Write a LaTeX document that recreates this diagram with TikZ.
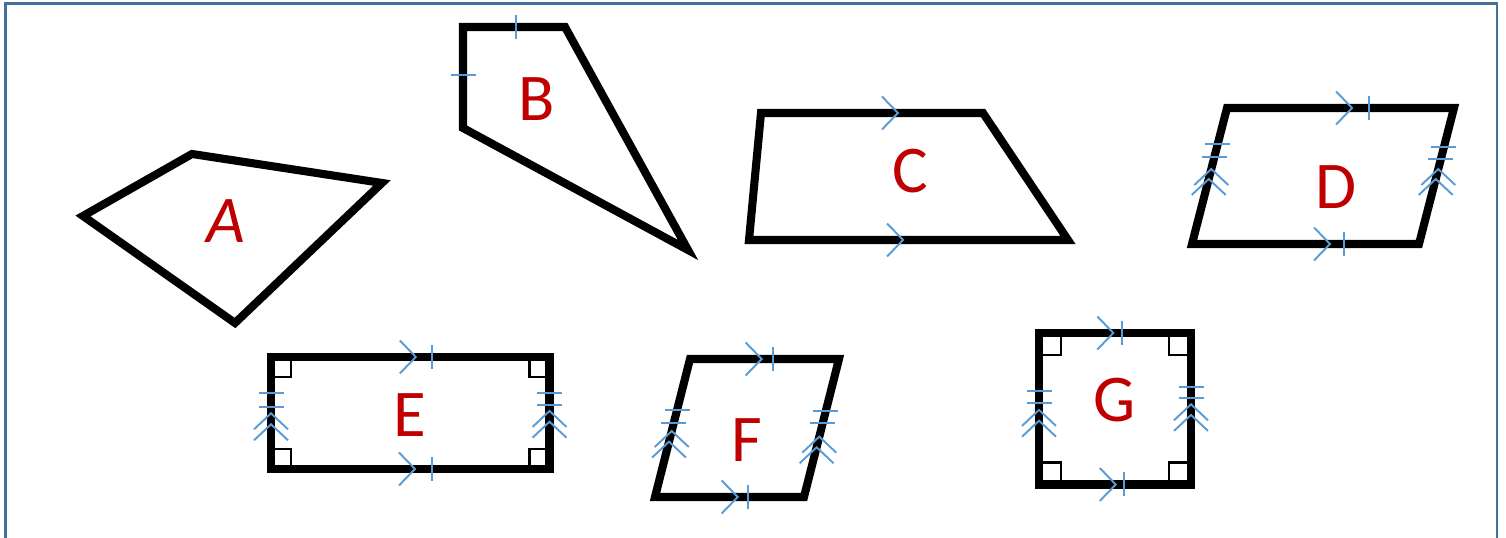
\documentclass[tikz,border=0pt]{standalone}
\usepackage{fontspec}
\setmainfont{Carlito}
\usepackage{tkz-euclide}
\usetikzlibrary{calc}
\definecolor{FrameClr}{RGB}{65,113,156}
\definecolor{MarkClr}{RGB}{91,155,213}
\definecolor{LetterClr}{RGB}{192,0,0}
\tikzset{markline/.style={color=MarkClr,line width=0.55pt},
  letter/.style={color=LetterClr,font=\fontsize{19}{19}\selectfont,inner sep=0pt}}
% tick across a horizontal / vertical side, chevron pointing right / up
\newcommand{\TickV}[1]{\draw[markline,shift={(#1)}] (0,.12) -- (0,-.12);}
\newcommand{\TickH}[1]{\draw[markline,shift={(#1)}] (-.125,0) -- (.125,0);}
\newcommand{\ChevR}[1]{\draw[markline,shift={(#1)}] (-.16,.165) -- (0,0) -- (-.16,-.165);}
\newcommand{\ChevU}[1]{\draw[markline,shift={(#1)}] (-.17,-.16) -- (0,0) -- (.17,-.16);}

\begin{document}
\begin{tikzpicture}
\useasboundingbox (0,0) rectangle (15.06,5.38);
\tkzSetUpLine[line width=2.3pt,color=black]

\draw[FrameClr,line width=0.7pt] (0.053,-0.1) -- (0.053,5.343) -- (14.97,5.343) -- (14.97,-0.1);

\tkzDefPoints{0.83/3.22/A1,1.92/3.84/A2,3.82/3.55/A3,2.35/2.15/A4}
\tkzDefPoints{4.63/5.11/B1,5.65/5.11/B2,6.88/2.88/B3,4.63/4.10/B4}
\tkzDefPoints{7.61/4.25/C1,9.83/4.25/C2,10.68/2.98/C3,7.49/2.98/C4}
\tkzDefPoints{12.27/4.30/D1,14.54/4.30/D2,14.19/2.94/D3,11.92/2.94/D4}
\tkzDefPoints{2.71/1.81/E1,5.495/1.81/E2,5.495/0.69/E3,2.71/0.69/E4}
\tkzDefPoints{6.90/1.79/F1,8.39/1.79/F2,8.04/0.41/F3,6.55/0.41/F4}
\tkzDefPoints{10.39/2.05/G1,11.91/2.05/G2,11.91/0.535/G3,10.39/0.535/G4}

\tkzDrawPolygon[line join=miter](A1,A2,A3,A4)
\tkzDrawPolygon[line join=miter](B1,B2,B3,B4)
\tkzDrawPolygon[line join=miter](C1,C2,C3,C4)
\tkzDrawPolygon[line join=miter](D1,D2,D3,D4)
\tkzDrawPolygon[line join=miter](E1,E2,E3,E4)
\tkzDrawPolygon[line join=miter](F1,F2,F3,F4)
\tkzDrawPolygon[line join=miter](G1,G2,G3,G4)

\tkzMarkRightAngle[size=.2,line width=0.6pt,color=black](E2,E1,E4)
\tkzMarkRightAngle[size=.2,line width=0.6pt,color=black](E3,E2,E1)
\tkzMarkRightAngle[size=.2,line width=0.6pt,color=black](E4,E3,E2)
\tkzMarkRightAngle[size=.2,line width=0.6pt,color=black](E1,E4,E3)
\tkzMarkRightAngle[size=.22,line width=0.6pt,color=black](G2,G1,G4)
\tkzMarkRightAngle[size=.22,line width=0.6pt,color=black](G3,G2,G1)
\tkzMarkRightAngle[size=.22,line width=0.6pt,color=black](G4,G3,G2)
\tkzMarkRightAngle[size=.22,line width=0.6pt,color=black](G1,G4,G3)

% B
\TickV{$(B1)!.52!(B2)$}
\TickH{$(B4)!.52!(B1)$}
% C
\ChevR{$(C1)!.617!(C2)$}
\ChevR{$(C4)!.483!(C3)$}
% D
\ChevR{$(D1)!.551!(D2)$} \TickV{$(D1)!.626!(D2)$}
\ChevR{$(D4)!.608!(D3)$} \TickV{$(D4)!.670!(D3)$}
\TickH{$(D4)!.735!(D1)$} \TickH{$(D4)!.640!(D1)$}
\ChevU{$(D4)!.551!(D1)$} \ChevU{$(D4)!.478!(D1)$}
\TickH{$(D3)!.713!(D2)$} \TickH{$(D3)!.625!(D2)$}
\ChevU{$(D3)!.551!(D2)$} \ChevU{$(D3)!.478!(D2)$}
% E
\ChevR{$(E1)!.520!(E2)$} \TickV{$(E1)!.577!(E2)$}
\ChevR{$(E4)!.517!(E3)$} \TickV{$(E4)!.577!(E3)$}
\TickH{$(E4)!.676!(E1)$} \TickH{$(E4)!.556!(E1)$}
\ChevU{$(E4)!.497!(E1)$} \ChevU{$(E4)!.399!(E1)$}
\TickH{$(E3)!.681!(E2)$} \TickH{$(E3)!.574!(E2)$}
\ChevU{$(E3)!.518!(E2)$} \ChevU{$(E3)!.422!(E2)$}
% F
\ChevR{$(F1)!.481!(F2)$} \TickV{$(F1)!.559!(F2)$}
\ChevR{$(F4)!.555!(F3)$} \TickV{$(F4)!.622!(F3)$}
\TickH{$(F4)!.630!(F1)$} \TickH{$(F4)!.538!(F1)$}
\ChevU{$(F4)!.478!(F1)$} \ChevU{$(F4)!.401!(F1)$}
\TickH{$(F3)!.625!(F2)$} \TickH{$(F3)!.534!(F2)$}
\ChevU{$(F3)!.437!(F2)$} \ChevU{$(F3)!.360!(F2)$}
% G
\ChevR{$(G1)!.489!(G2)$} \TickV{$(G1)!.544!(G2)$}
\ChevR{$(G4)!.505!(G3)$} \TickV{$(G4)!.559!(G3)$}
\TickH{$(G4)!.619!(G1)$} \TickH{$(G4)!.540!(G1)$}
\ChevU{$(G4)!.492!(G1)$} \ChevU{$(G4)!.421!(G1)$}
\TickH{$(G3)!.646!(G2)$} \TickH{$(G3)!.569!(G2)$}
\ChevU{$(G3)!.529!(G2)$} \ChevU{$(G3)!.459!(G2)$}

\node[letter,font=\fontsize{19}{19}\selectfont\itshape] (labA) at (2.26,3.17) {A};
\node[letter] (labB) at (5.37,4.39) {B};
\node[letter] (labC) at (9.10,3.67) {C};
\node[letter] (labD) at (13.36,3.51) {D};
\node[letter] (labE) at (4.10,1.23) {E};
\node[letter] (labF) at (7.47,0.98) {F};
\node[letter] (labG) at (11.15,1.38) {G};

\end{tikzpicture}
\end{document}
